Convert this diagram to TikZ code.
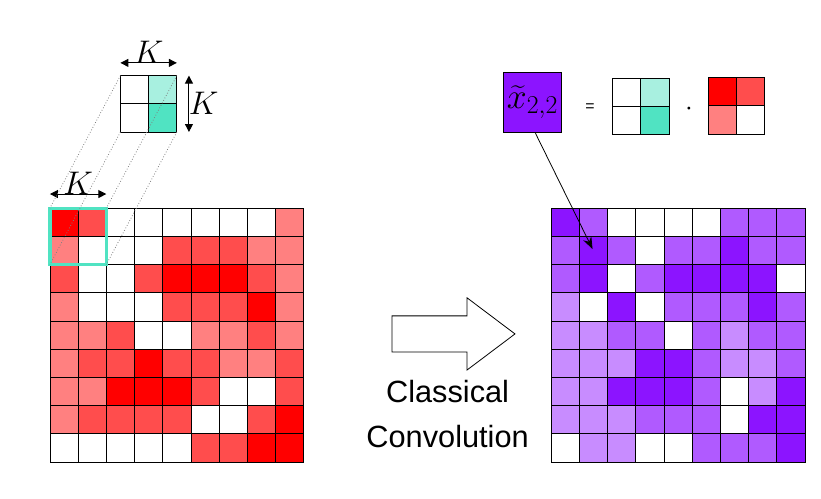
\RequirePackage{fix-cm}
\documentclass[tikz,border=0pt]{standalone}
\usepackage{amsmath}
\usepackage[no-math]{fontspec}
\setmainfont{Liberation Sans}
\usetikzlibrary{arrows.meta}
\DeclareMathSizes{36}{36}{26}{20}

\definecolor{red0}{HTML}{FFFFFF}
\definecolor{red1}{HTML}{FF8080}
\definecolor{red2}{HTML}{FF4D4D}
\definecolor{red3}{HTML}{FF0000}
\definecolor{pur0}{HTML}{FFFFFF}
\definecolor{pur1}{HTML}{C88CFF}
\definecolor{pur2}{HTML}{B05AFF}
\definecolor{pur3}{HTML}{8C14FF}
\definecolor{tealA}{HTML}{A8F0E0}
\definecolor{tealB}{HTML}{50E3C2}

\tikzset{
  cell/.style={draw=black, line width=0.8pt},
  window/.style={draw=tealB, line width=3.2pt},
  proj/.style={gray, dotted, line width=0.8pt},
  dim/.style={{Triangle[length=8pt,width=8pt]}-{Triangle[length=8pt,width=8pt]}, line width=1pt},
  bigmath/.style={font=\fontsize{33}{38}\selectfont},
  caption/.style={font=\fontsize{31}{46}\selectfont, align=center}
}

\begin{document}
\begin{tikzpicture}
  \useasboundingbox (-1.77,-1.31) rectangle (27.34,16.38);

  \begin{scope}[shift={(0,0)}]
  % Draw the input image
  \foreach \row [count=\j] in {{3,2,0,0,0,0,0,0,1},{1,0,0,0,2,2,2,1,1},{2,0,0,2,3,3,3,2,1},
      {1,0,0,0,2,2,2,3,1},{1,1,2,0,0,1,1,2,1},{1,2,2,3,2,2,1,1,2},
      {1,1,3,3,3,2,0,0,2},{1,2,2,2,2,0,0,2,3},{0,0,0,0,0,2,2,3,3}}
    \foreach \v [count=\i] in \row
      \filldraw[cell, fill=red\v] ({\i-1},{9-\j}) rectangle ++(1,1);

  % Draw the window
  \draw[window] (0,7) rectangle (2,9);
  \coordinate (wTL) at (0,9);
  \coordinate (wTR) at (2,9);
  \coordinate (wBL) at (0,7);
  \coordinate (wBR) at (2,7);
  \draw[dim] ([yshift=0.5cm]wTL) -- ([yshift=0.5cm]wTR)
    node[midway, above=-4pt, bigmath] (kLow) {$K$};
  \end{scope}

  \begin{scope}[shift={(2.5,11.7)}]
  % Draw the kernel
  \filldraw[cell, fill=white] (0,1) rectangle ++(1,1);
  \filldraw[cell, fill=tealA] (1,1) rectangle ++(1,1);
  \filldraw[cell, fill=white] (0,0) rectangle ++(1,1);
  \filldraw[cell, fill=tealB] (1,0) rectangle ++(1,1);
  \coordinate (kTL) at (0,2);
  \coordinate (kTR) at (2,2);
  \coordinate (kBL) at (0,0);
  \coordinate (kBR) at (2,0);
  \draw[dim] ([yshift=0.45cm]kTL) -- ([yshift=0.45cm]kTR)
    node[midway, above=-4pt, bigmath] (kTop) {$K$};
  \draw[dim] ([xshift=0.43cm]kTR) -- ([xshift=0.43cm]kBR)
    node[midway, right=-4pt, bigmath] (kSide) {$K$};
  \end{scope}

  % Project the kernel onto the window
  \draw[proj] (kTL) -- (wTL);
  \draw[proj] (kBL) -- (wBL);
  \draw[proj] (kTR) -- (wTR);
  \draw[proj] (kBR) -- (wBR);

  % Classical convolution arrow
  \draw[line width=0.8pt] (12.13,3.90) -- (14.79,3.90) -- (14.79,3.26) -- (16.49,4.54)
    -- (14.79,5.82) -- (14.79,5.18) -- (12.13,5.18) -- cycle;
  \node[caption] (conv) at (14.1,1.7) {Classical\\Convolution};

  \begin{scope}[shift={(17.77,0)}]
  % Draw the output image
  \foreach \row [count=\j] in {{3,2,0,0,0,0,2,2,2},{2,3,2,0,2,2,3,2,2},{2,3,0,2,3,3,3,3,0},
      {1,0,3,0,2,2,2,3,2},{1,1,2,2,0,2,1,2,2},{1,1,1,3,3,2,1,1,2},
      {1,1,3,3,3,2,0,1,3},{1,1,1,2,2,2,0,3,3},{0,1,1,0,0,2,2,2,3}}
    \foreach \v [count=\i] in \row
      \filldraw[cell, fill=pur\v] ({\i-1},{9-\j}) rectangle ++(1,1);
  \coordinate (target) at (1.47,7.55);
  \end{scope}

  % Equation for one output pixel
  \node[cell, fill=pur3, minimum width=2.06cm, minimum height=2.16cm, inner sep=0pt,
    font=\fontsize{36}{40}\selectfont] (xbox) at (17.11,12.75) {$\widetilde{x}_{2,2}$};
  \node[font=\fontsize{16}{18}\selectfont] (eq) at (19.15,12.55) {=};
  \begin{scope}[shift={(19.95,11.6)}]
  \filldraw[cell, fill=white] (0,1) rectangle ++(1,1);
  \filldraw[cell, fill=tealA] (1,1) rectangle ++(1,1);
  \filldraw[cell, fill=white] (0,0) rectangle ++(1,1);
  \filldraw[cell, fill=tealB] (1,0) rectangle ++(1,1);
  \end{scope}
  \node[font=\fontsize{28}{30}\selectfont] (dot) at (22.66,12.52) {$\cdot$};
  \begin{scope}[shift={(23.35,11.63)}]
  \filldraw[cell, fill=red3] (0,1) rectangle ++(1,1);
  \filldraw[cell, fill=red2] (1,1) rectangle ++(1,1);
  \filldraw[cell, fill=red1] (0,0) rectangle ++(1,1);
  \filldraw[cell, fill=white] (1,0) rectangle ++(1,1);
  \end{scope}

  \draw[-{Stealth[length=12pt,width=9pt]}, line width=0.8pt] ([xshift=3pt]xbox.south) -- (target);

\end{tikzpicture}
\end{document}
